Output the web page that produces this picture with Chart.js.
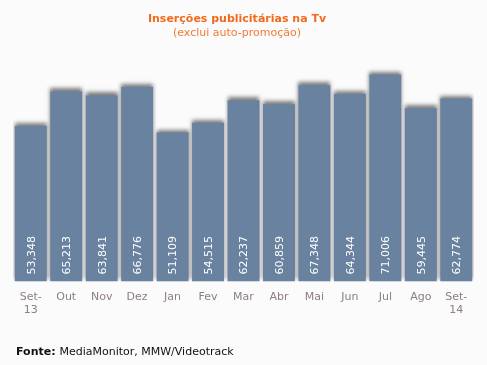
<!DOCTYPE html>
<html>
<head>
<meta charset="utf-8">
<script src="https://cdn.jsdelivr.net/npm/chart.js@4"></script>
<style>
  html, body { margin: 0; padding: 0; background: #fbfbfb; }
  #wrap { position: relative; width: 487px; height: 365px; }
</style>
</head>
<body>
<div id="wrap"><canvas id="chart" width="487" height="365"></canvas></div>
<script>
// Chart data
const months = [['Set-', '13'], 'Out', 'Nov', 'Dez', 'Jan', 'Fev', 'Mar', 'Abr', 'Mai', 'Jun', 'Jul', 'Ago', ['Set-', '14']];
const insertions = [53348, 65213, 63841, 66776, 51109, 54515, 62237, 60859, 67348, 64344, 71006, 59445, 62774];
const titleText = 'Inserções publicitárias na Tv';
const subtitleText = '(exclui auto-promoção)';
const sourceBold = 'Fonte:';
const sourceText = 'MediaMonitor, MMW/Videotrack';

const FONT = '"DejaVu Sans", Verdana, sans-serif';

// soft shadow round the bars
const barShadow = {
  id: 'barShadow',
  beforeDatasetsDraw(chart) {
    const ctx = chart.ctx;
    ctx.save();
    ctx.shadowColor = 'rgba(0,0,0,0.5)';
    ctx.shadowBlur = 4;
    ctx.shadowOffsetX = 0;
    ctx.shadowOffsetY = -3;
  },
  afterDatasetsDraw(chart) {
    chart.ctx.restore();
  }
};

// vertical value labels inside the bars
const valueLabels = {
  id: 'valueLabels',
  afterDatasetsDraw(chart) {
    const ctx = chart.ctx;
    const meta = chart.getDatasetMeta(0);
    ctx.save();
    ctx.font = '11px ' + FONT;
    ctx.fillStyle = '#ffffff';
    ctx.textAlign = 'left';
    ctx.textBaseline = 'middle';
    meta.data.forEach((bar, i) => {
      const txt = insertions[i].toLocaleString('en-US');
      ctx.save();
      ctx.translate(bar.x + 1, bar.base - 7);
      ctx.rotate(-Math.PI / 2);
      ctx.fillText(txt, 0, 0);
      ctx.restore();
    });
    ctx.restore();
  }
};

// titles and source line
const headerFooter = {
  id: 'headerFooter',
  afterDraw(chart) {
    const ctx = chart.ctx;
    ctx.save();
    ctx.textAlign = 'center';
    ctx.textBaseline = 'middle';
    ctx.font = 'bold 11px ' + FONT;
    ctx.fillStyle = '#f26a1b';
    ctx.fillText(titleText, 237, 19);
    ctx.font = '11px ' + FONT;
    ctx.fillStyle = '#f37b35';
    ctx.fillText(subtitleText, 237, 33);

    ctx.textAlign = 'left';
    ctx.font = 'bold 11px ' + FONT;
    ctx.fillStyle = '#111111';
    ctx.fillText(sourceBold, 16, 352);
    const w = ctx.measureText(sourceBold + ' ').width;
    ctx.font = '11px ' + FONT;
    ctx.fillText(sourceText, 16 + w, 352);
    ctx.restore();
  }
};

new Chart(document.getElementById('chart'), {
  type: 'bar',
  data: {
    labels: months,
    datasets: [{
      data: insertions,
      backgroundColor: '#68829f',
      borderWidth: 0,
      categoryPercentage: 1,
      barPercentage: 0.9
    }]
  },
  options: {
    responsive: false,
    animation: false,
    layout: { padding: { top: 60, left: 13, right: 13, bottom: 39 } },
    plugins: {
      legend: { display: false },
      tooltip: { enabled: false }
    },
    scales: {
      x: {
        grid: { display: false, drawTicks: false },
        border: { display: false },
        ticks: {
          padding: 9,
          color: '#8c8080',
          font: { family: FONT, size: 11 },
          maxRotation: 0,
          autoSkip: false
        }
      },
      y: {
        display: false,
        min: 0,
        max: 76000
      }
    }
  },
  plugins: [barShadow, valueLabels, headerFooter]
});
</script>
</body>
</html>
